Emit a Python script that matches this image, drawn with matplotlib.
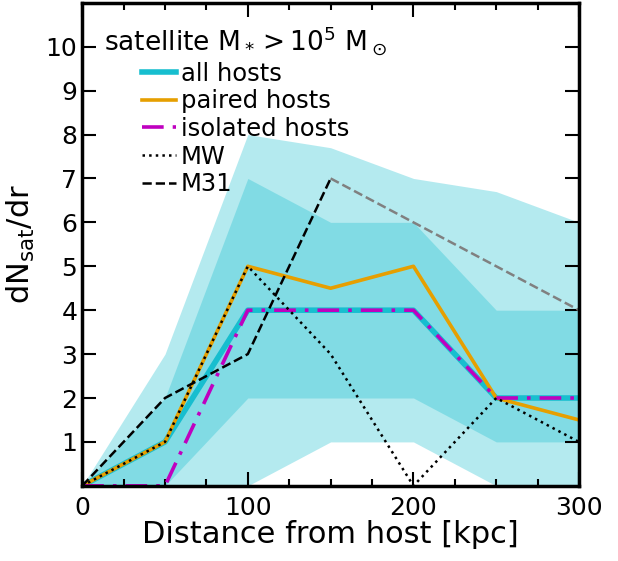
import numpy as np
import matplotlib
matplotlib.use('Agg')
from matplotlib import pyplot as plt
from matplotlib.ticker import MultipleLocator

# radial bins [kpc]
r = [0, 50, 100, 150, 200, 250, 300]

# median dN/dr
all_hosts = [0, 1, 4, 4, 4, 2, 2]
paired_hosts = [0, 1, 5, 4.5, 5, 2, 1.5]
isolated_hosts = [0, 0, 4, 4, 4, 2, 2]

# scatter bands for all hosts
outer_lo = [0, 0, 0, 1, 1, 0, 0]
outer_hi = [0, 3, 8, 7.7, 7, 6.7, 6]
inner_lo = [0, 0, 2, 2, 2, 1, 1]
inner_hi = [0, 2, 7, 6, 6, 4, 4]

# observed
mw = [0, 1, 5, 3, 0, 2, 1]
m31 = [0, 2, 3, 7, 6, 5, 4]
m31_cut = 3  # index where M31 goes grey

cyan = '#17becf'
orange = '#e69f00'
magenta = '#bf00bf'

fig = plt.figure(figsize=(6.18, 5.61), dpi=100)
ax = fig.add_axes([0.133, 0.134, 0.804, 0.861])

ax.fill_between(r, outer_lo, outer_hi, color=cyan, alpha=0.32, lw=0)
ax.fill_between(r, inner_lo, inner_hi, color=cyan, alpha=0.32, lw=0)

ax.plot(r, all_hosts, color=cyan, lw=4, label='all hosts')
ax.plot(r, paired_hosts, color=orange, lw=2.6, label='paired hosts')
ax.plot(r, isolated_hosts, color=magenta, lw=2.6, ls=(0, (6, 2.5, 1, 2.5)),
        label='isolated hosts')
ax.plot(r, mw, color='k', lw=1.8, ls=':', label='MW')
ax.plot(r[:m31_cut + 1], m31[:m31_cut + 1], color='k', lw=1.8, ls='--',
        label='M31')
ax.plot(r[m31_cut:], m31[m31_cut:], color='grey', lw=1.8, ls='--')

ax.set_xlim(0, 300)
ax.set_ylim(0, 11)
ax.set_xticks([0, 100, 200, 300])
ax.xaxis.set_minor_locator(MultipleLocator(25))
ax.set_yticks(range(1, 11))
ax.tick_params(which='both', direction='in', top=True, right=True,
               labelsize=18, width=1.5)
ax.tick_params(which='major', length=10)
ax.tick_params(which='minor', length=5)
ax.tick_params(axis='x', pad=7)
for s in ax.spines.values():
    s.set_linewidth(2.5)

ax.set_xlabel('Distance from host [kpc]', fontsize=22, labelpad=0)
ax.set_ylabel(r'dN$_{\rm sat}$/dr', fontsize=22, labelpad=6)

leg = ax.legend(loc='upper left', frameon=False, fontsize=17.5,
                title=r'satellite M$_*>10^5$ M$_\odot$', title_fontsize=19,
                handlelength=1.4, labelspacing=0.15, borderpad=0.4,
                handletextpad=0.2)

fig.savefig('out.png', dpi=100)
